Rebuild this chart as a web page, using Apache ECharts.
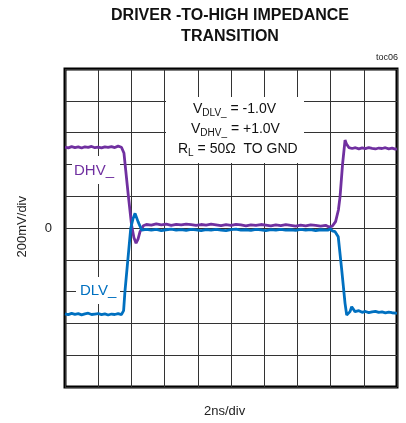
<!DOCTYPE html>
<html>
<head>
<meta charset="utf-8">
<script src="https://cdn.jsdelivr.net/npm/echarts@6/dist/echarts.min.js"></script>
<style>
html,body{margin:0;padding:0;background:#fff;}
#c{width:406px;height:423px;}
</style>
</head>
<body>
<div id="c"></div>
<script>
// time in ns, level in mV
var dhv = [[0,508],[0.2,504],[0.4,512],[0.6,506],[0.8,510],[1.0,503],[1.2,511],[1.4,507],[1.6,513],[1.8,505],[2.0,509],[2.2,504],[2.4,510],[2.6,507],[2.8,512],[3.0,506],[3.2,515],[3.4,508],[3.48,505],[3.55,472],[3.81,208],[4.01,19],[4.15,-60],[4.28,-96],[4.4,-70],[4.52,-23],[4.72,14],[4.9,22],[5.2,18],[5.5,26],[5.8,20],[6.1,24],[6.4,17],[6.7,23],[7.0,19],[7.3,25],[7.6,21],[7.9,16],[8.2,22],[8.5,18],[8.8,24],[9.1,20],[9.4,15],[9.7,21],[10.0,17],[10.3,23],[10.6,19],[10.9,14],[11.2,20],[11.5,16],[11.8,22],[12.1,18],[12.4,13],[12.7,19],[13.0,15],[13.3,21],[13.6,17],[13.9,12],[14.2,18],[14.5,14],[14.8,20],[15.1,16],[15.4,12],[15.7,17],[15.9,6],[16.1,12],[16.3,40],[16.47,113],[16.57,197],[16.72,400],[16.87,553],[16.95,530],[17.1,506],[17.3,500],[17.5,505],[17.7,498],[17.9,504],[18.1,499],[18.3,506],[18.5,501],[18.7,497],[18.9,503],[19.1,500],[19.3,505],[19.5,498],[19.7,502],[19.9,496],[20,498]];
var dlv = [[0,-540],[0.2,-545],[0.4,-537],[0.6,-543],[0.8,-539],[1.0,-546],[1.2,-540],[1.4,-536],[1.6,-544],[1.8,-541],[2.0,-538],[2.2,-545],[2.4,-540],[2.6,-547],[2.8,-541],[3.0,-544],[3.2,-539],[3.4,-545],[3.48,-546],[3.53,-520],[3.61,-400],[3.96,-2],[4.1,60],[4.22,92],[4.4,40],[4.62,-13],[4.9,-8],[5.2,-14],[5.5,-9],[5.8,-16],[6.1,-11],[6.4,-7],[6.7,-13],[7.0,-10],[7.3,-15],[7.6,-8],[7.9,-12],[8.2,-17],[8.5,-10],[8.8,-14],[9.1,-9],[9.4,-13],[9.7,-16],[10.0,-10],[10.3,-7],[10.6,-14],[10.9,-11],[11.2,-15],[11.5,-9],[11.8,-12],[12.1,-16],[12.4,-10],[12.7,-13],[13.0,-8],[13.3,-14],[13.6,-11],[13.9,-15],[14.2,-9],[14.5,-13],[14.8,-10],[15.1,-16],[15.4,-11],[15.7,-14],[15.86,-13],[16.0,-5],[16.1,-18],[16.27,-23],[16.46,-55],[16.67,-264],[16.87,-474],[16.97,-547],[17.07,-550],[17.17,-526],[17.27,-495],[17.47,-526],[17.7,-520],[17.9,-530],[18.1,-525],[18.3,-532],[18.5,-527],[18.7,-524],[18.9,-531],[19.1,-528],[19.3,-534],[19.5,-529],[19.7,-533],[19.9,-536],[20,-535]];
var xTicks = {min:0, max:20, step:2};
var yTicks = {min:-1000, max:1000, step:200};
var titleLines = ['DRIVER -TO-HIGH IMPEDANCE', 'TRANSITION'];
var xName = '2ns/div', yName = '200mV/div', tag = 'toc06';

var FF = '"Liberation Sans", Arial, sans-serif';
var PURPLE = '#7030A0', BLUE = '#0070C0';
var chart = echarts.init(document.getElementById('c'), null, {renderer:'canvas'});
var rich = {
  n:{fontSize:14, fontFamily:FF, fill:'#111', lineHeight:16},
  s:{fontSize:10, fontFamily:FF, fill:'#111', lineHeight:10, padding:[8,0,0,0]}
};
chart.setOption({
  animation:false,
  backgroundColor:'#fff',
  grid:{left:65, right:9, top:69, bottom:36, show:true, borderColor:'#000', borderWidth:3, backgroundColor:'transparent'},
  xAxis:{type:'value', min:xTicks.min, max:xTicks.max, interval:xTicks.step,
    axisLine:{show:false}, axisTick:{show:false}, axisLabel:{show:false},
    splitLine:{show:true, lineStyle:{color:'#333', width:1}}},
  yAxis:{type:'value', min:yTicks.min, max:yTicks.max, interval:yTicks.step,
    axisLine:{show:false}, axisTick:{show:false},
    axisLabel:{show:true, margin:13, fontSize:13, fontFamily:FF, color:'#222',
      formatter:function(v){return v===0?'0':'';}},
    splitLine:{show:true, lineStyle:{color:'#333', width:1}}},
  series:[
    {type:'line', data:dhv, showSymbol:false, symbol:'none', lineStyle:{color:PURPLE, width:2.8}, z:3},
    {type:'line', data:dlv, showSymbol:false, symbol:'none', lineStyle:{color:BLUE, width:2.8}, z:4}
  ],
  graphic:[
    {type:'text', x:230, y:8, z:100, style:{text:titleLines[0], font:'bold 16px '+FF, fill:'#111', textAlign:'center'}},
    {type:'text', x:230, y:29, z:100, style:{text:titleLines[1], font:'bold 16px '+FF, fill:'#111', textAlign:'center'}},
    {type:'text', right:8, top:53, z:100, style:{text:tag, font:'9px '+FF, fill:'#222'}},
    {type:'text', left:16, top:196, rotation:Math.PI/2, z:100, style:{text:yName, font:'13px '+FF, fill:'#222'}},
    {type:'text', left:204, top:405, z:100, style:{text:xName, font:'13px '+FF, fill:'#222'}},
    {type:'rect', shape:{x:166, y:97, width:138, height:66}, z:90, style:{fill:'#fff'}},
    {type:'text', left:193, top:100, z:100, style:{text:'{n|V}{s|DLV_}{n| = -1.0V}', rich:rich}},
    {type:'text', left:191, top:120, z:100, style:{text:'{n|V}{s|DHV_}{n| = +1.0V}', rich:rich}},
    {type:'text', left:178, top:140, z:100, style:{text:'{n|R}{s|L}{n| = 50\u03a9  TO GND}', rich:rich}},
    {type:'rect', shape:{x:72, y:156, width:48, height:28}, z:90, style:{fill:'#fff'}},
    {type:'text', left:74, top:163, z:100, style:{text:'DHV_', font:'15px '+FF, fill:PURPLE}},
    {type:'rect', shape:{x:76, y:277, width:44, height:27}, z:90, style:{fill:'#fff'}},
    {type:'text', left:80, top:283, z:100, style:{text:'DLV_', font:'15px '+FF, fill:BLUE}}
  ]
});
</script>
</body>
</html>
